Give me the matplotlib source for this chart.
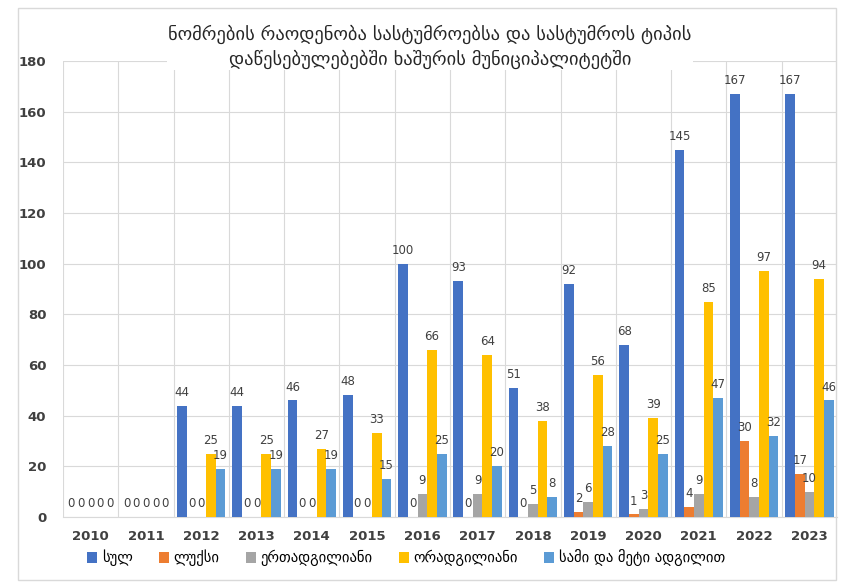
import numpy as np
import matplotlib.pyplot as plt
from matplotlib.patches import Rectangle

years = ["2010", "2011", "2012", "2013", "2014", "2015", "2016",
         "2017", "2018", "2019", "2020", "2021", "2022", "2023"]
series_names = ["სულ", "ლუქსი", "ერთადგილიანი", "ორადგილიანი", "სამი და მეტი ადგილით"]
total = [0, 0, 44, 44, 46, 48, 100, 93, 51, 92, 68, 145, 167, 167]
lux = [0, 0, 0, 0, 0, 0, 0, 0, 0, 2, 1, 4, 30, 17]
single = [0, 0, 0, 0, 0, 0, 9, 9, 5, 6, 3, 9, 8, 10]
double = [0, 0, 25, 25, 27, 33, 66, 64, 38, 56, 39, 85, 97, 94]
three_plus = [0, 0, 19, 19, 19, 15, 25, 20, 8, 28, 25, 47, 32, 46]
colors = ["#4472C4", "#ED7D31", "#A5A5A5", "#FFC000", "#5B9BD5"]

title = "ნომრების რაოდენობა სასტუმროებსა და სასტუმროს ტიპის\nდაწესებულებებში ხაშურის მუნიციპალიტეტში"

plt.rcParams["font.family"] = ["DejaVu Sans"]

fig = plt.figure(figsize=(8.41, 5.82), dpi=100)
ax = fig.add_axes([63 / 841, 1 - 517 / 582, (837 - 63) / 841, (517 - 61) / 582])

# outer chart frame
fig.patches.append(Rectangle((18 / 841, 1 - 580 / 582), (836 - 18) / 841, (580 - 8) / 582,
                             transform=fig.transFigure, fill=False,
                             edgecolor="#D9D9D9", linewidth=1.0))

x = np.arange(len(years))
width = 0.175
all_series = [total, lux, single, double, three_plus]
for i, (vals, name, c) in enumerate(zip(all_series, series_names, colors)):
    bars = ax.bar(x + (i - 2) * width, vals, width, color=c, label=name, zorder=3)
    ax.bar_label(bars, padding=5, fontsize=8.5, color="#404040", zorder=4)

ax.set_xlim(-0.5, len(years) - 0.5)
ax.set_ylim(0, 180)
ax.set_yticks(range(0, 181, 20))
ax.set_xticks(x)
ax.set_xticklabels(years)
ax.set_xticks(np.arange(-0.5, len(years), 1), minor=True)
ax.grid(axis="y", color="#D9D9D9", linewidth=0.8, zorder=0)
ax.grid(axis="x", which="minor", color="#D9D9D9", linewidth=0.8, zorder=0)
ax.tick_params(axis="both", which="both", length=0)
ax.tick_params(axis="y", pad=12, labelsize=9.5, labelcolor="#404040")
ax.tick_params(axis="x", pad=9, labelsize=9.5, labelcolor="#404040")
for lab in ax.get_xticklabels() + ax.get_yticklabels():
    lab.set_fontweight("bold")
for s in ["top", "right", "left"]:
    ax.spines[s].set_visible(False)
ax.spines["bottom"].set_color("#D9D9D9")

fig.text(430 / 841, 1 - 47 / 582, title, ha="center", va="center", fontsize=13.3,
         color="#262626", linespacing=1.35, zorder=10,
         bbox=dict(facecolor="white", edgecolor="none", pad=1))

ax.legend(loc="center left", bbox_to_anchor=(74 / 841, 1 - 558 / 582),
          bbox_transform=fig.transFigure, ncol=5, frameon=False, fontsize=10.5,
          handlelength=0.7, handleheight=0.7, handletextpad=0.3, columnspacing=1.8)

fig.savefig("out.png", dpi=100)
